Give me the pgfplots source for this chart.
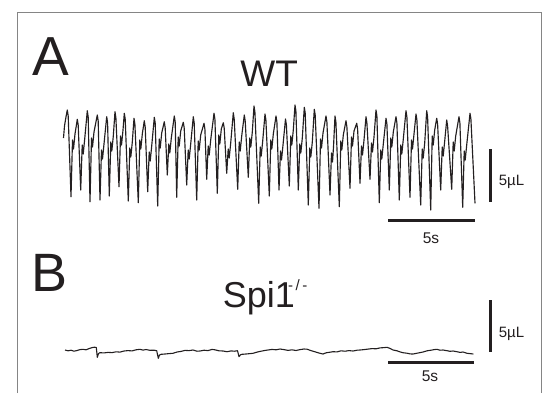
\documentclass[border=0pt]{standalone}
\usepackage{pgfplots}
\pgfplotsset{compat=1.18}
\usepackage{fontspec}
\setmainfont{Liberation Sans}
\definecolor{ink}{HTML}{231F20}
\definecolor{framegray}{HTML}{858585}
\begin{document}
\begin{tikzpicture}
\begin{axis}[x=1bp, y=1bp, y dir=reverse, xmin=0, xmax=546, ymin=0, ymax=393,
  hide axis, clip=false]
\path (axis cs:0,0) rectangle (axis cs:546,393);
% frame
\addplot[framegray, line width=1bp, mark=none] coordinates {(17,393) (17,12) (541,12) (541,393)};
% WT trace
\addplot[ink, line width=1.15bp, mark=none, line join=round] coordinates {
(63.5,138) (64.5,126) (65.8,118) (67.3,110) (68.2,116)
(71,196.7) (72.5,140) (73.5,149) (75,134) (77.3,119.3) (78.2,125)
(80.7,190) (82.2,145) (83.2,154) (84.7,139) (87.3,110.7) (88.2,117)
(90,201.7) (91.5,138) (92.5,147) (94,132) (97.3,115) (98.2,121)
(100,200) (101.5,150) (102.5,159) (104,144) (106.7,116.7) (107.6,123)
(109.3,196) (110.8,142) (111.8,151) (113.3,136) (115,111.7) (115.9,118)
(119,186.7) (120.5,136) (121.5,145) (123,130) (124.3,113.3) (125.2,119)
(128.3,201) (129.8,148) (130.8,157) (132.3,142) (134,118.3) (134.9,124)
(138.3,202.7) (139.8,140) (140.8,149) (142.3,134) (144.3,120.7) (145.2,127)
(147.7,191.7) (149.2,152) (150.2,161) (151.7,146) (154.3,117.3) (155.2,123)
(157.7,206) (159.2,139) (160.2,148) (161.7,133) (164.3,121.7) (165.2,128)
(167.3,175) (168.8,144) (169.8,153) (171.3,138) (174.3,116) (175.2,122)
(176.7,197.3) (178.2,137) (179.2,146) (180.7,131) (183.3,122.3) (184.2,128)
(186.7,185) (188.2,150) (189.2,159) (190.7,144) (193.3,116.7) (194.2,123)
(196.7,200) (198.2,141) (199.2,150) (200.7,135) (204,123.3) (204.9,129)
(206.7,179.3) (208.2,146) (209.2,155) (210.7,140) (214,113.3) (214.9,119)
(217.3,193.3) (218.8,135) (219.8,144) (221.3,129) (223.3,122.7) (224.2,128)
(226.7,173.3) (228.2,149) (229.2,158) (230.7,143) (233.3,112.7) (234.2,119)
(237.7,189.3) (239.2,142) (240.2,151) (241.7,136) (244.3,115) (245.2,121)
(248.3,177.3) (249.8,138) (250.8,147) (252.3,132) (254,106) (254.9,112)
(258.7,203.3) (260.2,147) (261.2,156) (262.7,141) (265,114) (265.9,120)
(269.3,196) (270.8,140) (271.8,149) (273.3,134) (276,116) (276.9,122)
(279,190) (280.5,151) (281.5,160) (283,145) (285.5,119) (286.4,125)
(289.3,186) (290.8,136) (291.8,145) (293.3,130) (295,105) (295.9,111)
(298.3,190) (299.8,144) (300.8,153) (302.3,138) (304.3,107.3) (305.2,113)
(308.3,205) (309.8,148) (310.8,157) (312.3,142) (314.3,109.3) (315.2,115)
(319,208.3) (320.5,139) (321.5,148) (323,133) (326,116) (326.9,122)
(330,195) (331.5,153) (332.5,162) (333.5,147) (335,116) (335.9,122)
(339.3,206.7) (340.8,141) (341.8,150) (343.3,135) (346,120.7) (346.9,127)
(350,188.3) (351.5,137) (352.5,146) (354,131) (356.7,123.3) (357.6,129)
(360,183.3) (361.5,146) (362.5,155) (364,140) (366,116.7) (366.9,123)
(370,179.3) (371.5,143) (372.5,152) (374,137) (376,110) (376.9,116)
(379.3,202.7) (380.8,150) (381.8,159) (383.3,144) (386,118.3) (386.9,124)
(389.3,190) (390.8,138) (391.8,147) (393.3,132) (396,116.7) (396.9,123)
(399.3,200) (400.8,145) (401.8,154) (403.3,139) (406,110.7) (406.9,117)
(410,197.3) (411.5,140) (412.5,149) (414,134) (416,114) (416.9,120)
(420.7,205) (422.2,149) (423.2,158) (424.7,143) (426.7,110.7) (427.6,117)
(430.7,210) (432.2,136) (433.2,145) (434.7,130) (436.7,118.3) (437.6,124)
(440.7,190) (442.2,147) (443.2,156) (444.7,141) (446.7,120) (447.6,126)
(451.7,189.3) (453.2,142) (454.2,151) (455.7,136) (459,116.7) (459.9,123)
(462.7,207.3) (464.2,151) (465.2,160) (466.7,145) (470,113.3) (470.9,119)
(475,203.3)
};
% Spi1 trace
\addplot[ink, line width=1.1bp, mark=none, line join=round] coordinates {
(65,350) (68,350.8) (71,350.2) (74,351.2) (77,350.5) (80,349.6) (83,349.3) (86,349.8)
(89,348.6) (92,347.6) (94.5,347.2) (96.3,347.5) (97.3,357.3) (98.5,353.5) (100,352.7)
(104,352.9) (108,352.4) (112,352.6) (116,351.8) (120,352.1) (124,351.0) (128,350.6)
(132,350.9) (136,349.8) (140,349.3) (143,350.1) (146,349.5) (150,350.3) (154,350.2)
(156.7,350.7) (158.3,358.3) (159.5,355) (161,354.3) (165,354.0) (169,353.6) (173,353.3)
(177,352.0) (181,351.4) (185,350.4) (189,350.6) (193,350.0) (197,351.2) (200,351.0)
(204,350.2) (208,350.6) (212,349.4) (215,349.8) (219,350.8) (223,351.0) (227,351.7)
(231,350.9) (234.5,351.2) (237.5,350.7) (239,356.7) (240.5,354.8) (242,354.3) (246,354.0)
(250,353.6) (253,353.3) (257,352.1) (261,351.2) (265,350.4) (268,350.0) (272,349.4)
(276,349.8) (280,349.0) (284,349.6) (288,350.4) (292,349.8) (296,350.5) (300,349.6)
(304,349.0) (307,349.2) (311,350.6) (315,351.8) (319,353.0) (323,354.0) (326,352.8)
(330,352.2) (333,351.7) (337,351.9) (341,350.8) (345,351.2) (349,350.6) (353,351.0)
(357,350.2) (360,350.0) (364,349.6) (368,349.1) (372,348.6) (376,348.8) (380,347.9)
(384,347.6) (387,347.3) (390,348.4) (393,350.0) (397,350.8) (400,351.9) (403,352.7)
(407,353.2) (410,353.9) (413,354.0) (416,353.4) (420,352.6) (423,352.0) (427,350.8)
(431,350.2) (434,349.6) (437,349.3) (440,350.2) (443,350.0) (447,350.7) (450,351.3)
(453,351.0) (457,351.7) (460,352.4) (463,352.0) (467,353.3) (470,353.6) (473.3,354)
};
% scale bars
\addplot[ink, line width=3bp, mark=none] coordinates {(490,149.3) (490,201.7)};
\addplot[ink, line width=3bp, mark=none] coordinates {(388.3,220) (475,220)};
\addplot[ink, line width=3bp, mark=none] coordinates {(490,300) (490,352.3)};
\addplot[ink, line width=3bp, mark=none] coordinates {(388,362.7) (474,362.7)};
% labels
\node[anchor=base west, inner sep=0, text=ink, font=\fontsize{55bp}{60bp}\selectfont] at (axis cs:32.5,75.5) {A};
\node[anchor=base west, inner sep=0, text=ink, font=\fontsize{54bp}{60bp}\selectfont] at (axis cs:31,291.7) {B};
\node[anchor=base, inner sep=0, text=ink, font=\fontsize{37bp}{42bp}\selectfont] at (axis cs:269.2,86) {WT};
\node[anchor=base west, inner sep=0, text=ink, font=\fontsize{36bp}{42bp}\selectfont] at (axis cs:222.6,307.7) {Spi1};
\node[anchor=base west, inner sep=0, text=ink, font=\fontsize{15bp}{18bp}\selectfont] at (axis cs:288,290) {-\kern2.5bp/\kern2.5bp-};
\node[anchor=base west, inner sep=0, text=ink, font=\fontsize{15bp}{18bp}\selectfont] at (axis cs:498.7,185) {5µL};
\node[anchor=base west, inner sep=0, text=ink, font=\fontsize{15bp}{18bp}\selectfont] at (axis cs:498.7,337.3) {5µL};
\node[anchor=base, inner sep=0, text=ink, font=\fontsize{15.5bp}{18bp}\selectfont] at (axis cs:431,243.3) {5s};
\node[anchor=base, inner sep=0, text=ink, font=\fontsize{15.5bp}{18bp}\selectfont] at (axis cs:430,381) {5s};
\end{axis}
\end{tikzpicture}
\end{document}
